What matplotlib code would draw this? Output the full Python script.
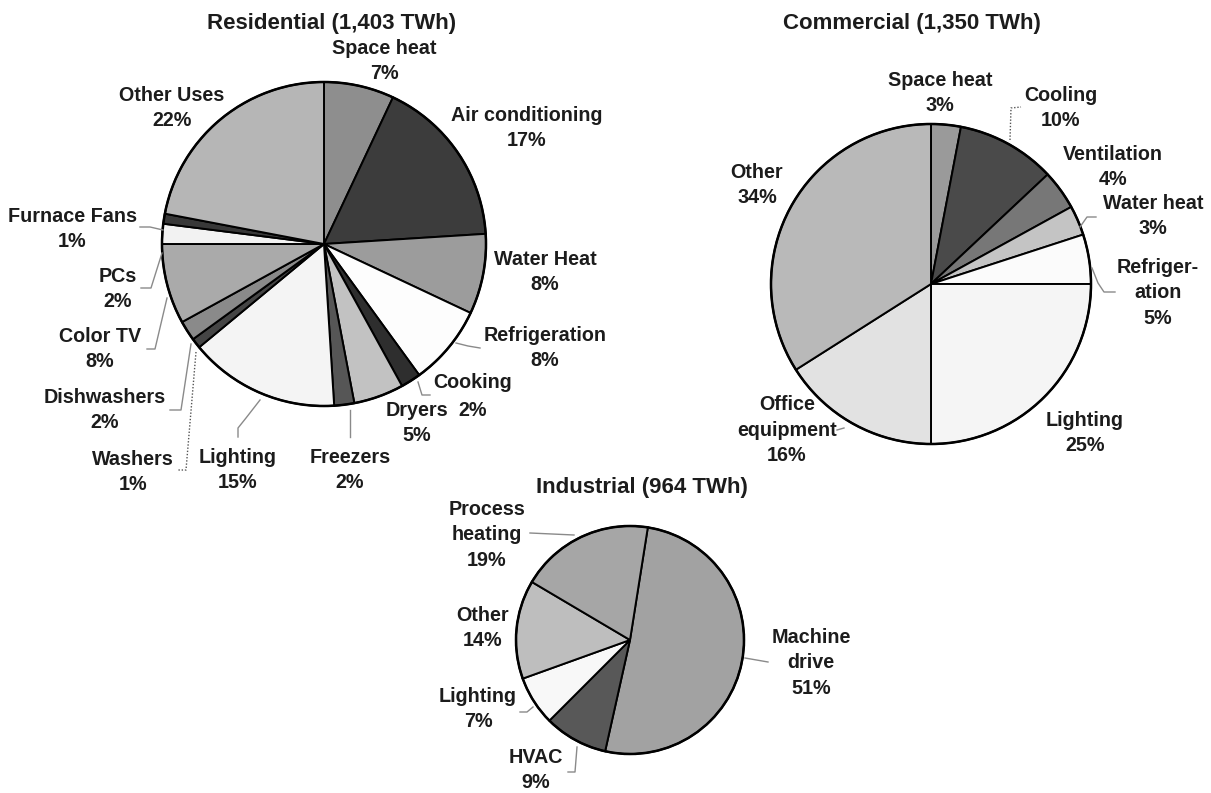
import matplotlib
matplotlib.use("Agg")
import matplotlib.pyplot as plt

plt.rcParams['font.family'] = ['Liberation Sans', 'DejaVu Sans']

W, H = 1211, 793

# ---- data ----
res_labels = ["Space heat", "Air conditioning", "Water Heat", "Refrigeration", "Cooking",
              "Dryers", "Freezers", "Lighting", "Washers", "Dishwashers", "Color TV",
              "PCs", "Furnace Fans", "Other Uses"]
res_values = [7, 17, 8, 8, 2, 5, 2, 15, 1, 2, 8, 2, 1, 22]
res_colors = ["#8e8e8e", "#3c3c3c", "#9c9c9c", "#fdfdfd", "#2e2e2e", "#c2c2c2", "#565656",
              "#f4f4f4", "#454545", "#8a8a8a", "#aaaaaa", "#f2f2f2", "#383838", "#b6b6b6"]

com_labels = ["Space heat", "Cooling", "Ventilation", "Water heat", "Refriger-\nation",
              "Lighting", "Office\nequipment", "Other"]
com_values = [3, 10, 4, 3, 5, 25, 16, 34]
com_colors = ["#9a9a9a", "#4a4a4a", "#777777", "#c4c4c4", "#fbfbfb", "#f5f5f5", "#e2e2e2",
              "#b9b9b9"]

ind_labels = ["Machine\ndrive", "HVAC", "Lighting", "Other", "Process\nheating"]
ind_values = [51, 9, 7, 14, 19]
ind_colors = ["#a2a2a2", "#585858", "#f8f8f8", "#bebebe", "#a6a6a6"]

fig = plt.figure(figsize=(W / 100, H / 100), dpi=100)
ax = fig.add_axes([0, 0, 1, 1])


def Y(y):
    return H - y


def draw_pie(values, colors, cx, cy, r, start):
    ax.pie(values, colors=colors, center=(cx, Y(cy)), radius=r, startangle=start,
           counterclock=False, frame=True,
           wedgeprops=dict(edgecolor="black", linewidth=1.4))
    circ = plt.Circle((cx, Y(cy)), r, fill=False, edgecolor="black", linewidth=1.8)
    ax.add_patch(circ)


draw_pie(res_values, res_colors, 324, 244, 162, 90)
draw_pie(com_values, com_colors, 931, 284, 160, 90)
draw_pie(ind_values, ind_colors, 630, 640, 114, 81)

txt = dict(ha="center", va="center", fontsize=14.2, fontweight="bold", color="#1c1c1c",
           linespacing=1.45)
ttl = dict(ha="center", va="center", fontsize=16, fontweight="bold", color="#1c1c1c")

ax.text(332, Y(23), "Residential (1,403 TWh)", **ttl)
ax.text(912, Y(23), "Commercial (1,350 TWh)", **ttl)
ax.text(642, Y(488), "Industrial (964 TWh)", **ttl)


def lab(name, val, x, y):
    ax.text(x, Y(y), f"{name}\n{val}%", **txt)


# residential labels
res_pos = [(384, 61), (527, 128), (545, 272), (545, 348), (473, 396), (417, 423), (350, 470),
           (238, 470), (133, 472), (105, 410), (100, 349), (118, 289), (72, 229), (172, 108)]
for name, v, (x, y) in zip(res_labels, res_values, res_pos):
    if name == "Cooking":
        ax.text(x, Y(383), name, **txt)
        ax.text(x, Y(410), f"{v}%", **txt)
    else:
        lab(name, v, x, y)

# commercial labels
com_pos = [(940, 93), (1061, 108), (1113, 167), (1153, 216), (1158, 293), (1085, 433),
           (787, 430), (757, 185)]
for name, v, (x, y) in zip(com_labels, com_values, com_pos):
    lab(name, v, x, y)

# industrial labels
ind_pos = [(811, 663), (536, 770), (478, 709), (483, 628), (487, 535)]
for name, v, (x, y) in zip(ind_labels, ind_values, ind_pos):
    lab(name, v, x, y)


def leader(pts, dotted=False):
    xs = [p[0] for p in pts]
    ys = [Y(p[1]) for p in pts]
    ax.plot(xs, ys, color="#555555" if dotted else "#8a8a8a", linewidth=1.0,
            linestyle=(0, (1, 1.3)) if dotted else "-")


# residential leader lines
leader([(456, 343), (468, 346), (480, 348)])
leader([(418, 382), (422, 395), (430, 395)])
leader([(350, 410), (350, 437)])
leader([(260, 400), (246, 418), (238, 428), (238, 437)])
leader([(196, 352), (186, 470), (178, 470)], dotted=True)
leader([(191, 344), (181, 410), (170, 410)])
leader([(167, 298), (155, 349), (147, 349)])
leader([(162, 253), (151, 288), (141, 288)])
leader([(163, 230), (150, 227), (140, 227)])

# commercial leader lines
leader([(1010, 140), (1011, 108), (1021, 107)], dotted=True)
leader([(1080, 227), (1087, 217), (1096, 217)])
leader([(1092, 268), (1098, 283), (1104, 292), (1115, 292)])
leader([(837, 430), (844, 428)])

# industrial leader lines
leader([(530, 533), (574, 535)])
leader([(745, 658), (768, 662)])
leader([(533, 707), (527, 712), (520, 712)])
leader([(577, 747), (575, 772), (568, 772)])

ax.set_xlim(0, W)
ax.set_ylim(0, H)
ax.set_aspect("auto")
ax.axis("off")

fig.savefig("out.png", dpi=100, facecolor="white")
